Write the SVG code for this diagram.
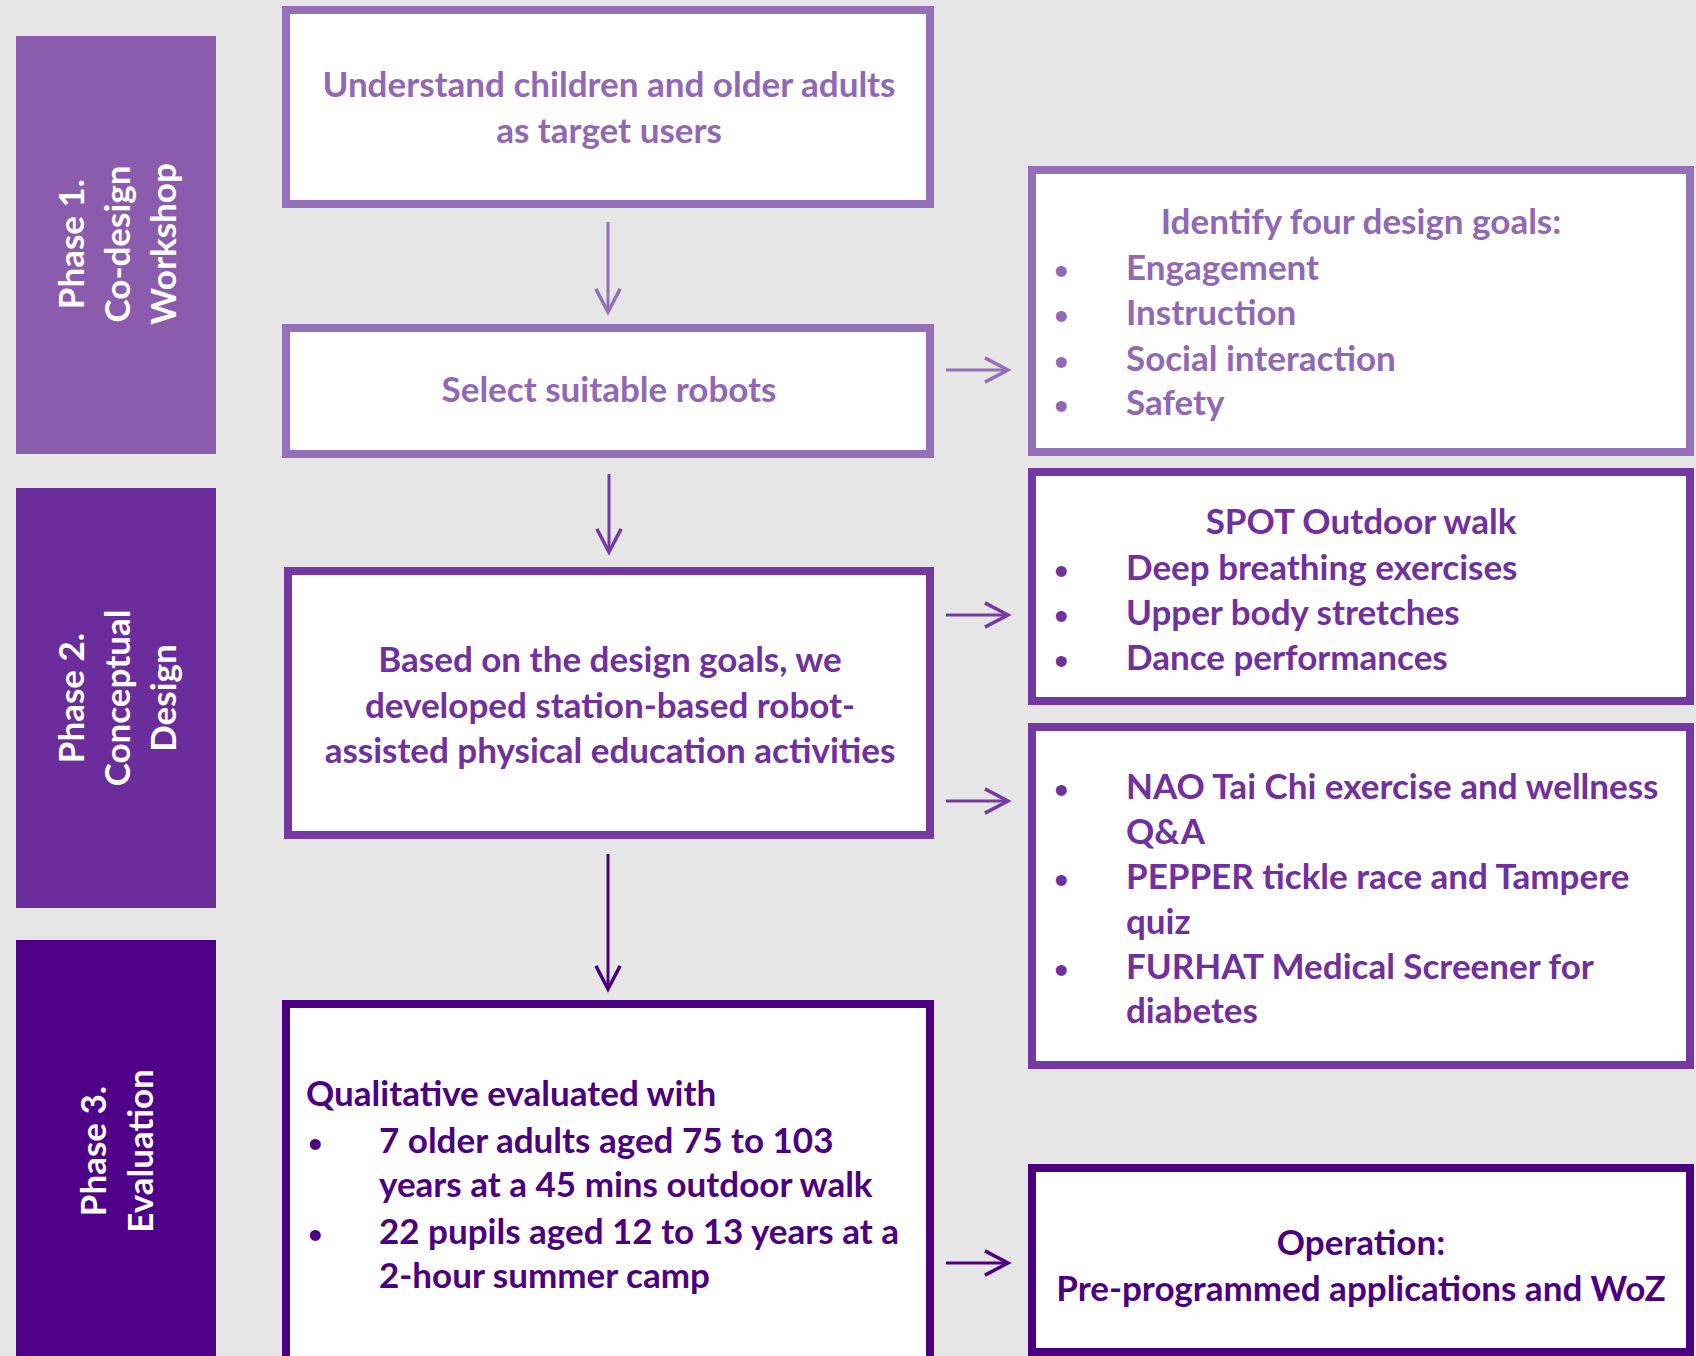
<svg xmlns="http://www.w3.org/2000/svg" width="1696" height="1356" viewBox="0 0 1696 1356">
<style>
  text { font-family: Lato, "Open Sans", "DejaVu Sans", sans-serif; font-weight: 700; font-size: 35px; }
  .ph { fill: #ffffff; }
  .t1 { fill: #9168B6; }
  .t2 { fill: #7030A0; }
  .t3 { fill: #4B0082; }
  .bu { font-size: 25px; }
  .box { fill: #ffffff; stroke-width: 8; }
  .b1 { stroke: #9570B8; }
  .b2 { stroke: #7539A4; }
  .b3 { stroke: #4B0082; }
  .c { fill: none; stroke-width: 3; }
  .mid { text-anchor: middle; }
</style>
<defs>
  <marker id="m1" markerUnits="userSpaceOnUse" markerWidth="30" markerHeight="30" refX="0" refY="0" viewBox="-22 -13 26 26" orient="auto">
    <path d="M-20,-10.5 L0,0 L-20,10.5" fill="none" stroke="#9570B8" stroke-width="3"/>
  </marker>
  <marker id="m2" markerUnits="userSpaceOnUse" markerWidth="30" markerHeight="30" refX="0" refY="0" viewBox="-22 -13 26 26" orient="auto">
    <path d="M-20,-10.5 L0,0 L-20,10.5" fill="none" stroke="#7539A4" stroke-width="3"/>
  </marker>
  <marker id="m3" markerUnits="userSpaceOnUse" markerWidth="30" markerHeight="30" refX="0" refY="0" viewBox="-22 -13 26 26" orient="auto">
    <path d="M-20,-10.5 L0,0 L-20,10.5" fill="none" stroke="#4B0082" stroke-width="3"/>
  </marker>
</defs>
<rect x="0" y="0" width="1696" height="1356" fill="#E6E6E6"/>

<g id="phase1">
  <rect x="16" y="36" width="200" height="418" fill="#8B5BAE"/>
  <text class="ph mid" transform="translate(0,244) rotate(-90)"><tspan x="0" y="84">Phase 1.</tspan><tspan x="0" y="130">Co-design</tspan><tspan x="0" y="176">Workshop</tspan></text>
</g>
<g id="phase2">
  <rect x="16" y="488" width="200" height="420" fill="#6B2D9B"/>
  <text class="ph mid" transform="translate(0,698) rotate(-90)"><tspan x="0" y="84">Phase 2.</tspan><tspan x="0" y="130">Conceptual</tspan><tspan x="0" y="176">Design</tspan></text>
</g>
<g id="phase3">
  <rect x="16" y="940" width="200" height="416" fill="#4F0088"/>
  <text class="ph mid" transform="translate(0,1151) rotate(-90)"><tspan x="0" y="106">Phase 3.</tspan><tspan x="0" y="153">Evaluation</tspan></text>
</g>

<g id="understand">
  <rect class="box b1" x="286" y="10" width="644" height="194"/>
  <text class="t1 mid"><tspan x="609" y="97">Understand children and older adults</tspan><tspan x="609" y="143">as target users</tspan></text>
</g>
<g id="select">
  <rect class="box b1" x="286" y="328" width="644" height="126"/>
  <text class="t1 mid" x="609" y="402">Select suitable robots</text>
</g>
<g id="goals">
  <rect class="box b1" x="1032" y="170" width="658" height="282"/>
  <text class="t1 mid" x="1361" y="234">Identify four design goals:</text>
  <text class="t1"><tspan class="bu" x="1054" y="279">•</tspan><tspan x="1126" y="280">Engagement</tspan><tspan class="bu" x="1054" y="324">•</tspan><tspan x="1126" y="325">Instruction</tspan><tspan class="bu" x="1054" y="370">•</tspan><tspan x="1126" y="371">Social interaction</tspan><tspan class="bu" x="1054" y="414">•</tspan><tspan x="1126" y="415">Safety</tspan></text>
</g>
<g id="activities">
  <rect class="box b2" x="288" y="571" width="642" height="264"/>
  <text class="t2 mid"><tspan x="610" y="672">Based on the design goals, we</tspan><tspan x="610" y="718">developed station-based robot-</tspan><tspan x="610" y="763">assisted physical education activities</tspan></text>
</g>
<g id="spot">
  <rect class="box b2" x="1032" y="472" width="658" height="229"/>
  <text class="t2 mid" x="1361" y="534">SPOT Outdoor walk</text>
  <text class="t2"><tspan class="bu" x="1054" y="579">•</tspan><tspan x="1126" y="580">Deep breathing exercises</tspan><tspan class="bu" x="1054" y="624">•</tspan><tspan x="1126" y="625">Upper body stretches</tspan><tspan class="bu" x="1054" y="669">•</tspan><tspan x="1126" y="670">Dance performances</tspan></text>
</g>
<g id="robots">
  <rect class="box b2" x="1032" y="727" width="658" height="338"/>
  <text class="t2"><tspan class="bu" x="1054" y="798">•</tspan><tspan x="1126" y="799">NAO Tai Chi exercise and wellness</tspan><tspan x="1126" y="844">Q&amp;A</tspan><tspan class="bu" x="1054" y="888">•</tspan><tspan x="1126" y="889">PEPPER tickle race and Tampere</tspan><tspan x="1126" y="934">quiz</tspan><tspan class="bu" x="1054" y="978">•</tspan><tspan x="1126" y="979">FURHAT Medical Screener for</tspan><tspan x="1126" y="1023">diabetes</tspan></text>
</g>
<g id="evaluation">
  <rect class="box b3" x="286" y="1004" width="644" height="420"/>
  <text class="t3"><tspan x="306" y="1106">Qualitative evaluated with</tspan><tspan class="bu" x="308" y="1152">•</tspan><tspan x="379" y="1153">7 older adults aged 75 to 103</tspan><tspan x="379" y="1197">years at a 45 mins outdoor walk</tspan><tspan class="bu" x="308" y="1243">•</tspan><tspan x="379" y="1244">22 pupils aged 12 to 13 years at a</tspan><tspan x="379" y="1288">2-hour summer camp</tspan></text>
</g>
<g id="operation">
  <rect class="box b3" x="1032" y="1168" width="658" height="184"/>
  <text class="t3 mid"><tspan x="1361" y="1255">Operation:</tspan><tspan x="1361" y="1301">Pre-programmed applications and WoZ</tspan></text>
</g>

<g id="connectors">
  <line class="c" stroke="#9570B8" x1="608" y1="222" x2="608" y2="312" marker-end="url(#m1)"/>
  <line class="c" stroke="#9570B8" x1="946" y1="370" x2="1008" y2="370" marker-end="url(#m1)"/>
  <line class="c" stroke="#7539A4" x1="609" y1="474" x2="609" y2="552" marker-end="url(#m2)"/>
  <line class="c" stroke="#7539A4" x1="946" y1="615" x2="1008" y2="615" marker-end="url(#m2)"/>
  <line class="c" stroke="#7539A4" x1="946" y1="801" x2="1008" y2="801" marker-end="url(#m2)"/>
  <line class="c" stroke="#4B0082" x1="608" y1="854" x2="608" y2="989" marker-end="url(#m3)"/>
  <line class="c" stroke="#4B0082" x1="946" y1="1263" x2="1008" y2="1263" marker-end="url(#m3)"/>
</g>
</svg>
